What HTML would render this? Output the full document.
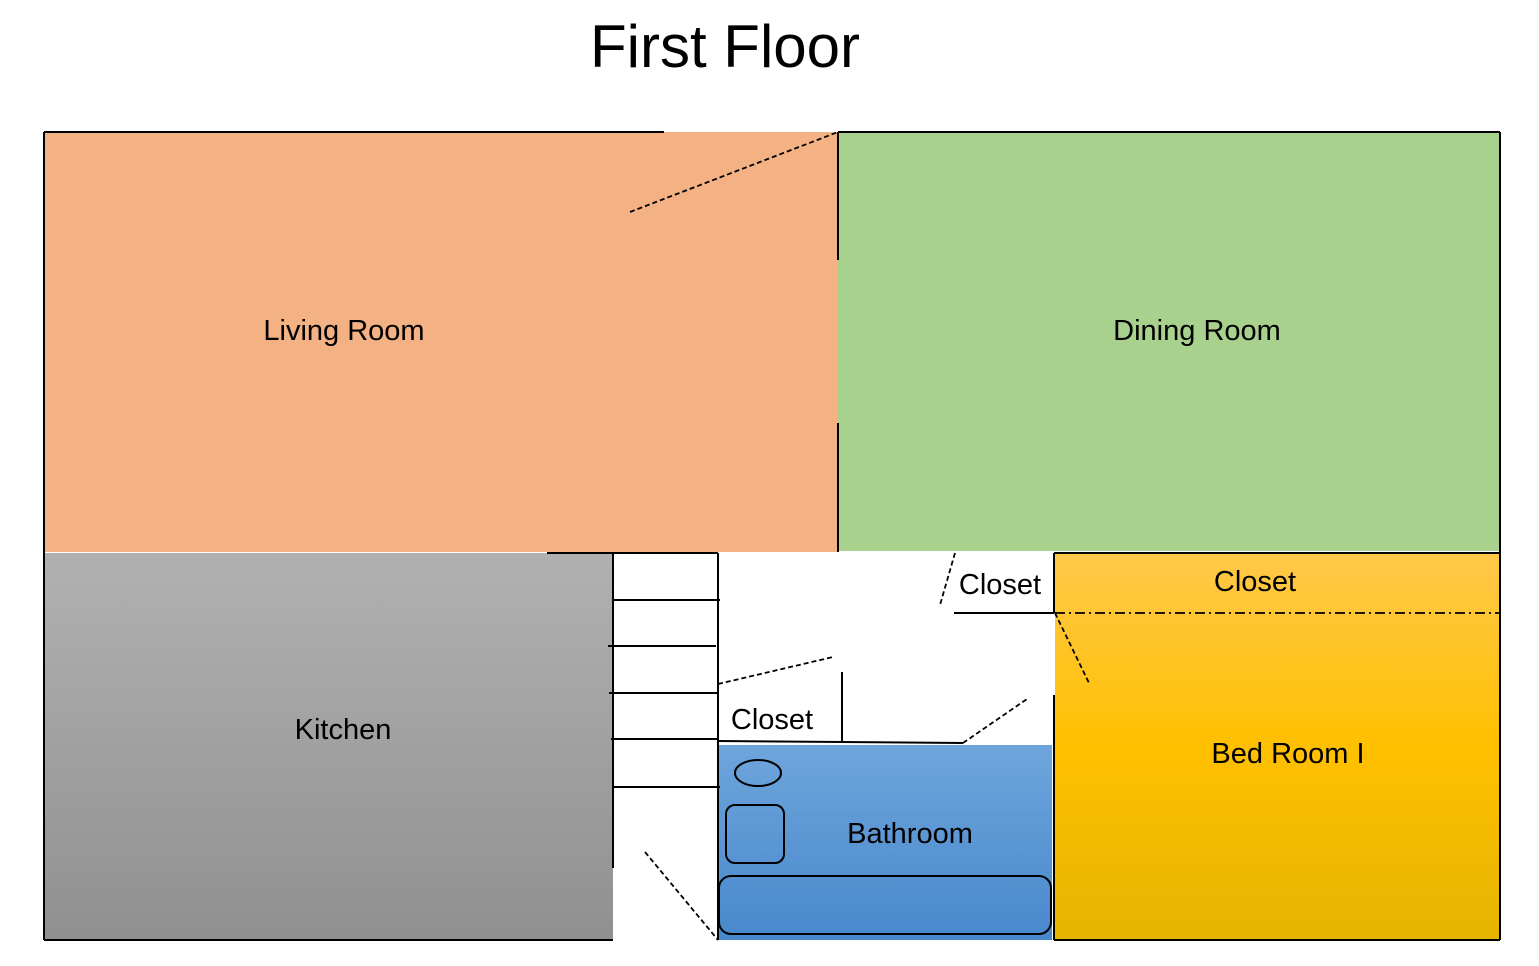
<!DOCTYPE html>
<html><head><meta charset="utf-8"><style>html,body{margin:0;padding:0;background:#fff;}svg{display:block}</style></head>
<body>
<svg width="1539" height="966" viewBox="0 0 1539 966" xmlns="http://www.w3.org/2000/svg" font-family="Liberation Sans, sans-serif">
<defs>
<linearGradient id="k" x1="0" y1="0" x2="0" y2="1"><stop offset="0" stop-color="#B1B1B1"/><stop offset="1" stop-color="#909090"/></linearGradient>
<linearGradient id="b" x1="0" y1="0" x2="0" y2="1"><stop offset="0" stop-color="#6FA5DC"/><stop offset="1" stop-color="#4788CC"/></linearGradient>
<linearGradient id="y" x1="0" y1="0" x2="0" y2="1"><stop offset="0" stop-color="#FFC84A"/><stop offset="0.5" stop-color="#FFC000"/><stop offset="1" stop-color="#E6B400"/></linearGradient>
</defs>
<text x="725" y="67" font-size="60" text-anchor="middle" fill="#000">First Floor</text>
<rect x="44" y="132" width="794" height="420" fill="#F4B183"/>
<rect x="838" y="132" width="662" height="419" fill="#A9D18E"/>
<rect x="44" y="553" width="569" height="387" fill="url(#k)"/>
<rect x="718" y="745" width="334" height="195" fill="url(#b)"/>
<rect x="1055" y="553" width="445" height="387" fill="url(#y)"/>
<g stroke="#000" stroke-width="2" fill="none">
<line x1="44" y1="132" x2="664" y2="132"/>
<line x1="44" y1="132" x2="44" y2="940"/>
<line x1="838" y1="132" x2="838" y2="260"/>
<line x1="838" y1="423" x2="838" y2="552"/>
<line x1="838" y1="132" x2="1500" y2="132"/>
<line x1="1500" y1="132" x2="1500" y2="940"/>
<line x1="547" y1="553" x2="718" y2="553"/>
<line x1="44" y1="940" x2="613" y2="940"/>
<line x1="613" y1="553" x2="613" y2="868"/>
<line x1="718" y1="553" x2="718" y2="940"/>
<line x1="613" y1="600" x2="720" y2="600"/>
<line x1="608" y1="646" x2="716" y2="646"/>
<line x1="609" y1="693" x2="718" y2="693"/>
<line x1="611" y1="739" x2="718" y2="739"/>
<line x1="613" y1="787" x2="720" y2="787"/>
<line x1="842" y1="672" x2="842" y2="743"/>
<line x1="718" y1="741" x2="963" y2="743"/>
<line x1="954" y1="613" x2="1054" y2="613"/>
<line x1="1054" y1="553" x2="1054" y2="613"/>
<line x1="1054" y1="695" x2="1054" y2="940"/>
<line x1="1054" y1="553" x2="1500" y2="553"/>
<line x1="1054" y1="940" x2="1500" y2="940"/>
<ellipse cx="758" cy="773" rx="23" ry="13"/>
<rect x="726" y="805" width="58" height="58" rx="9"/>
<rect x="719" y="876" width="332" height="58" rx="12"/>
</g>
<g stroke="#000" stroke-width="1.8" fill="none" stroke-dasharray="5,3">
<line x1="630" y1="212" x2="838" y2="132"/>
<line x1="645" y1="852" x2="718" y2="940"/>
<line x1="718" y1="684" x2="833" y2="657"/>
<line x1="963" y1="743" x2="1027" y2="699"/>
<line x1="955" y1="553" x2="940" y2="605"/>
<line x1="1055" y1="613" x2="1089" y2="683"/>
<line x1="1055" y1="613" x2="1500" y2="613" stroke-dasharray="10,4,2,4"/>
</g>
<g font-size="29" fill="#000">
<text x="344" y="340" text-anchor="middle">Living Room</text>
<text x="1197" y="340" text-anchor="middle">Dining Room</text>
<text x="343" y="739" text-anchor="middle">Kitchen</text>
<text x="1000" y="594" text-anchor="middle">Closet</text>
<text x="1255" y="591" text-anchor="middle">Closet</text>
<text x="772" y="729" text-anchor="middle">Closet</text>
<text x="910" y="843" text-anchor="middle">Bathroom</text>
<text x="1288" y="763" text-anchor="middle">Bed Room I</text>
</g>
</svg>
</body></html>
